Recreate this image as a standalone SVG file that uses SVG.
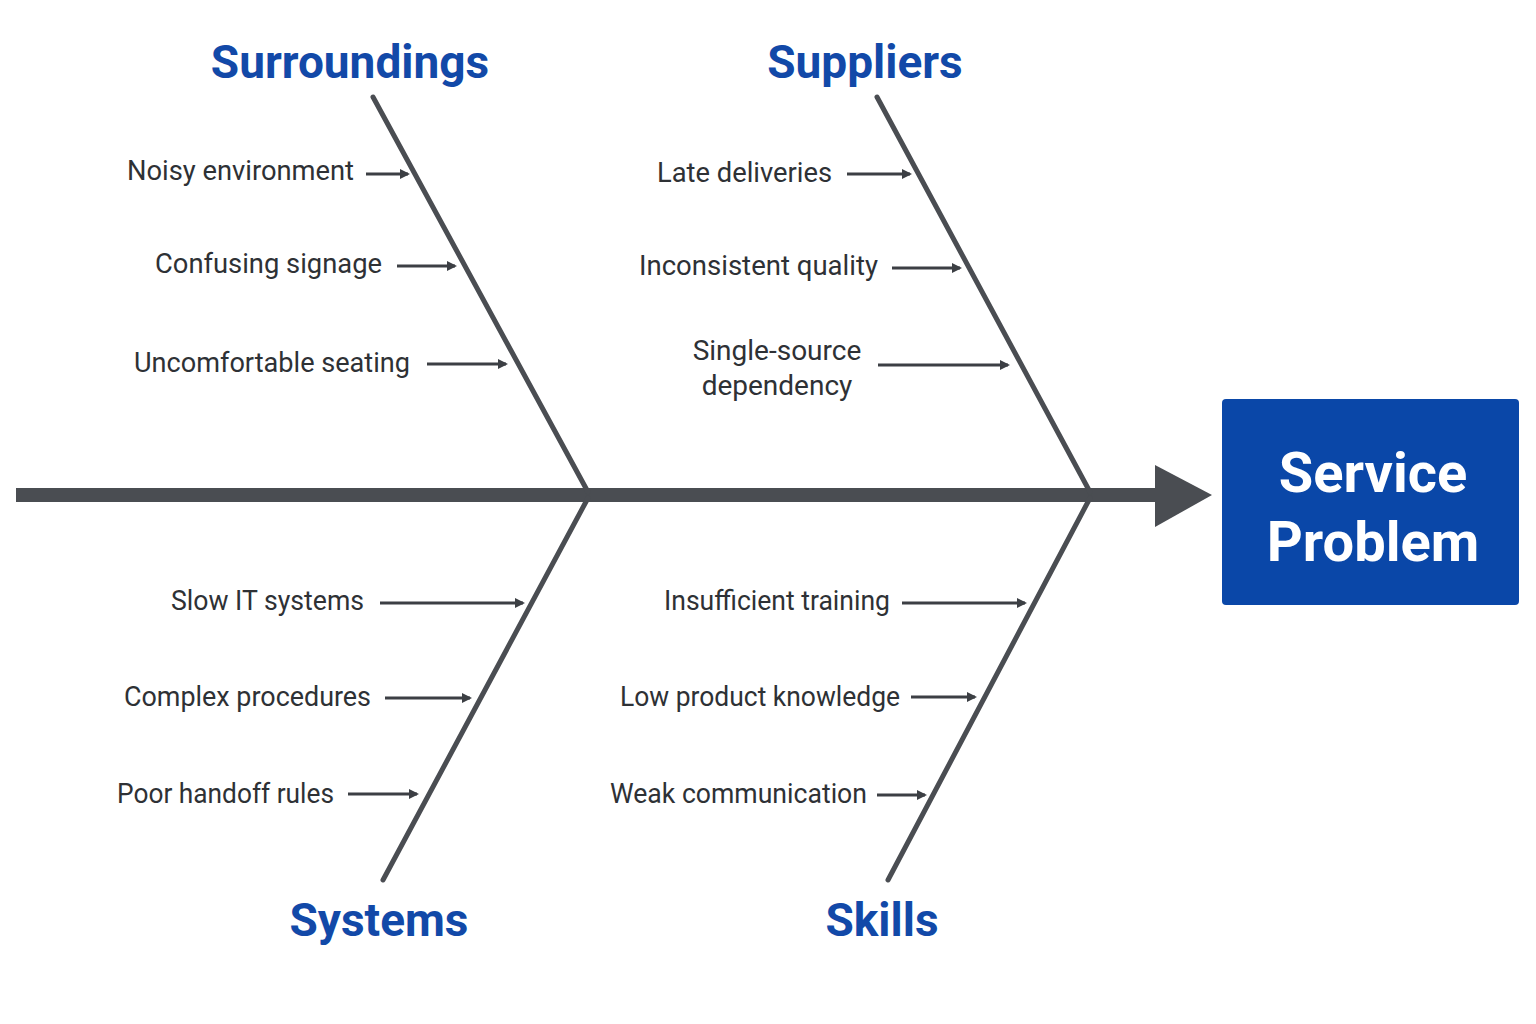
<svg xmlns="http://www.w3.org/2000/svg" width="1536" height="1024" viewBox="0 0 1536 1024">
<style>
.lbl{font-family:Roboto,"Liberation Sans",sans-serif;font-size:28px;fill:#2e3135}
.ttl{font-family:Roboto,"Liberation Sans",sans-serif;font-size:46px;font-weight:bold;fill:#1249a8;text-anchor:middle}
.bone{stroke:#4a4d52;stroke-width:5;fill:none;stroke-linecap:round}
.arr{stroke:#3c3f44;stroke-width:3;fill:none;marker-end:url(#ah)}
</style>
<defs><marker id="ah" markerWidth="10" markerHeight="10" refX="8" refY="5" orient="auto" markerUnits="userSpaceOnUse"><path d="M0,0 L10,5 L0,10 z" fill="#3c3f44"/></marker></defs>
<rect width="1536" height="1024" fill="#fff"/>
<g id="connectors">
<line x1="16" y1="495" x2="1158" y2="495" stroke="#4a4d52" stroke-width="14"/>
<polygon points="1155,465 1212,495 1155,527" fill="#4a4d52"/>
<line class="bone" x1="373" y1="97" x2="588" y2="492"/>
<line class="bone" x1="877" y1="97" x2="1090" y2="492"/>
<line class="bone" x1="588" y1="498" x2="383" y2="880"/>
<line class="bone" x1="1090" y1="498" x2="888" y2="880"/>
<line class="arr" x1="366" y1="174" x2="408" y2="174"/>
<line class="arr" x1="397" y1="266" x2="455" y2="266"/>
<line class="arr" x1="427" y1="364" x2="506" y2="364"/>
<line class="arr" x1="847" y1="174" x2="910" y2="174"/>
<line class="arr" x1="892" y1="268" x2="960" y2="268"/>
<line class="arr" x1="878" y1="365" x2="1008" y2="365"/>
<line class="arr" x1="380" y1="603" x2="523" y2="603"/>
<line class="arr" x1="385" y1="698" x2="470" y2="698"/>
<line class="arr" x1="348" y1="794" x2="417" y2="794"/>
<line class="arr" x1="902" y1="603" x2="1025" y2="603"/>
<line class="arr" x1="911" y1="697" x2="975" y2="697"/>
<line class="arr" x1="877" y1="795" x2="925" y2="795"/>
</g>
<g id="effect"><rect x="1222" y="399" width="297" height="206" rx="4" fill="#0a47a8"/>
<text x="1373" y="492" font-family="Roboto,'Liberation Sans',sans-serif" font-size="56" font-weight="bold" fill="#fff" text-anchor="middle">Service</text>
<text x="1373" y="561" font-family="Roboto,'Liberation Sans',sans-serif" font-size="56" font-weight="bold" fill="#fff" text-anchor="middle">Problem</text></g>
<g id="surroundings"><text class="ttl" x="350" y="78">Surroundings</text>
<text class="lbl" x="127" y="180" textLength="227" lengthAdjust="spacingAndGlyphs">Noisy environment</text>
<text class="lbl" x="155" y="273" textLength="227" lengthAdjust="spacingAndGlyphs">Confusing signage</text>
<text class="lbl" x="134" y="372" textLength="276" lengthAdjust="spacingAndGlyphs">Uncomfortable seating</text></g>
<g id="suppliers"><text class="ttl" x="865" y="78">Suppliers</text>
<text class="lbl" x="657" y="182" textLength="175" lengthAdjust="spacingAndGlyphs">Late deliveries</text>
<text class="lbl" x="639" y="275" textLength="239" lengthAdjust="spacingAndGlyphs">Inconsistent quality</text>
<text class="lbl" x="777" y="360" text-anchor="middle">Single-source</text>
<text class="lbl" x="777" y="395" text-anchor="middle">dependency</text></g>
<g id="systems"><text class="ttl" x="379" y="936">Systems</text>
<text class="lbl" x="171" y="610" textLength="193" lengthAdjust="spacingAndGlyphs">Slow IT systems</text>
<text class="lbl" x="124" y="706" textLength="247" lengthAdjust="spacingAndGlyphs">Complex procedures</text>
<text class="lbl" x="117" y="803" textLength="217" lengthAdjust="spacingAndGlyphs">Poor handoff rules</text></g>
<g id="skills"><text class="ttl" x="882" y="936">Skills</text>
<text class="lbl" x="664" y="610" textLength="226" lengthAdjust="spacingAndGlyphs">Insufficient training</text>
<text class="lbl" x="620" y="706" textLength="280" lengthAdjust="spacingAndGlyphs">Low product knowledge</text>
<text class="lbl" x="610" y="803" textLength="257" lengthAdjust="spacingAndGlyphs">Weak communication</text></g>
</svg>
